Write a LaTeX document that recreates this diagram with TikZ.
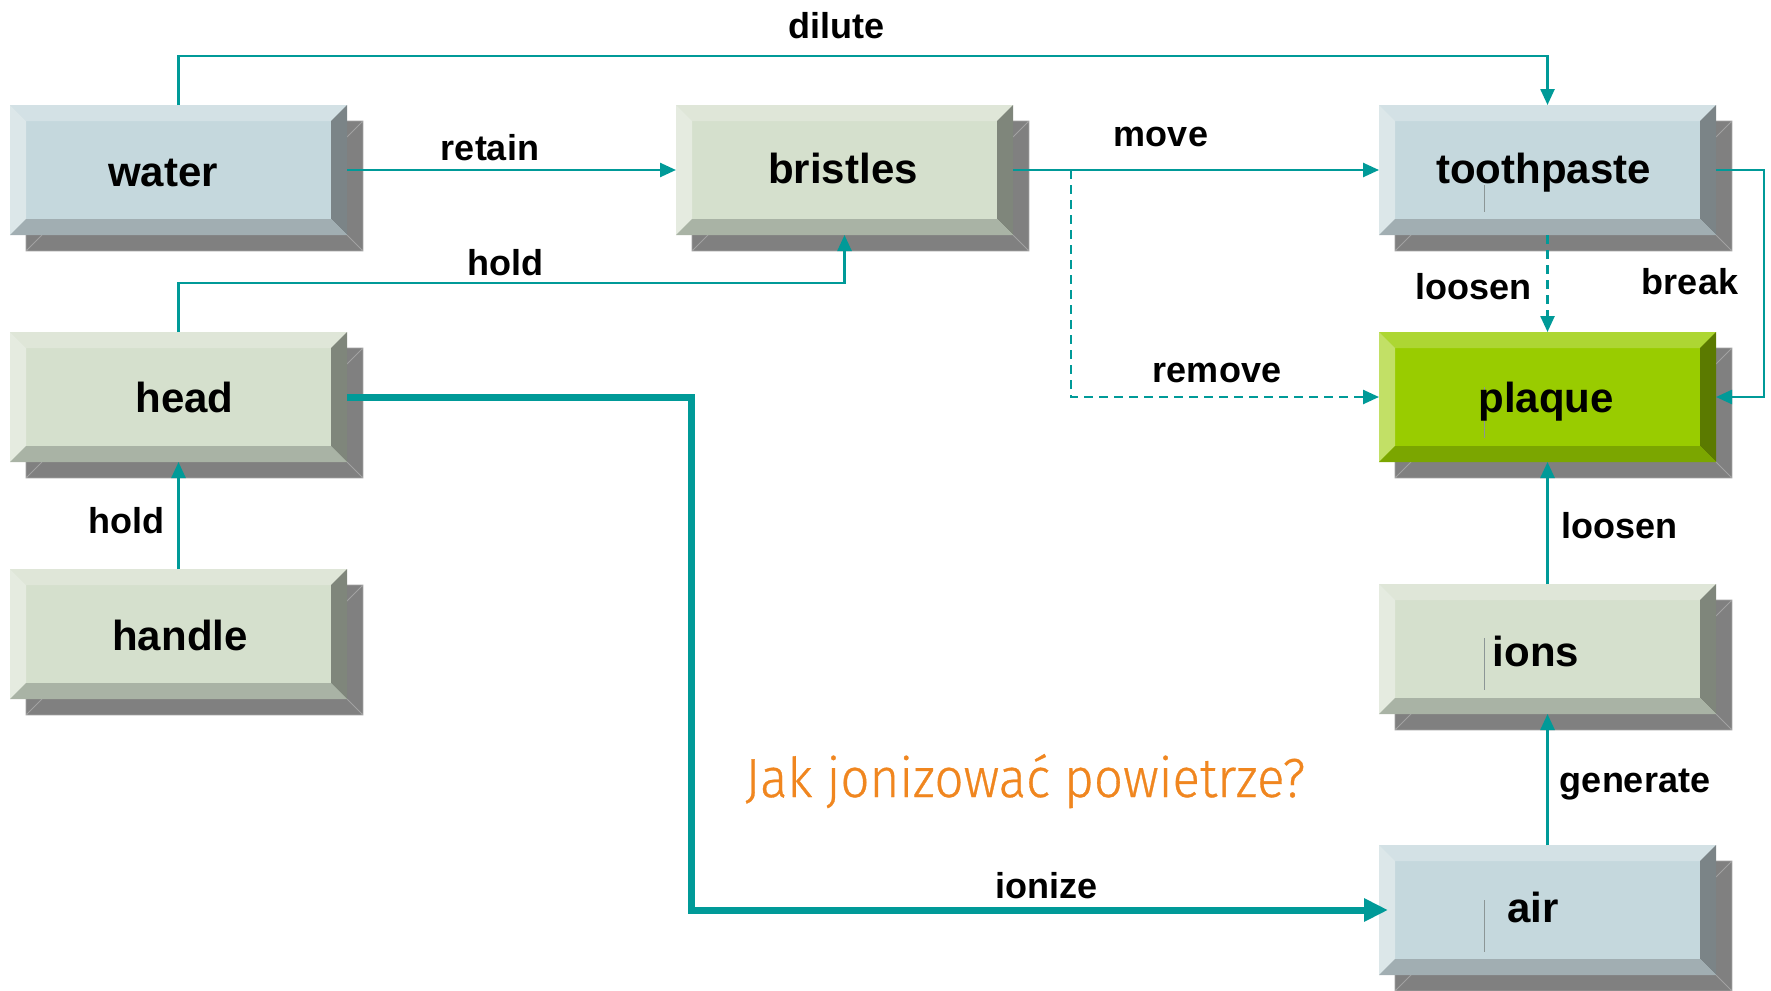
\documentclass[tikz,border=0pt]{standalone}
\usepackage{fontspec}
\setmainfont{Liberation Sans}
\newfontfamily\orfont{Fira Sans Light}[FakeBold=0.6]
\usetikzlibrary{arrows.meta}
\definecolor{tealc}{HTML}{009A98}
\definecolor{orangec}{HTML}{F0861F}
\definecolor{shdc}{HTML}{808080}
\definecolor{shdl}{HTML}{A2A2A2}
\definecolor{bface}{HTML}{C5D8DD}
\definecolor{btop}{HTML}{D3E1E5}
\definecolor{bleft}{HTML}{DCE7E9}
\definecolor{bright}{HTML}{7B8487}
\definecolor{bbot}{HTML}{A1AEB2}
\definecolor{gface}{HTML}{D5E0CD}
\definecolor{gtop}{HTML}{DFE6D8}
\definecolor{gleft}{HTML}{E5EBE0}
\definecolor{gright}{HTML}{7F867B}
\definecolor{gbot}{HTML}{A9B3A5}
\definecolor{pface}{HTML}{99CC00}
\definecolor{ptop}{HTML}{ADD633}
\definecolor{pleft}{HTML}{C2E066}
\definecolor{pright}{HTML}{5B7A00}
\definecolor{pbot}{HTML}{7BA600}
\definecolor{artc}{HTML}{8C9696}
\tikzset{
  boxshape/.style={draw=none, minimum width=337pt, minimum height=130pt, inner sep=0pt, outer sep=0pt},
  shd/.style={fill=shdc},
  shdline/.style={draw=shdl, line width=0.8pt},
  conn/.style={draw=tealc, line width=2.5pt, -{Triangle[length=16pt,width=14pt]}},
  dconn/.style={conn, dash pattern=on 9pt off 6pt},
  bigconn/.style={draw=tealc, line width=7pt, -{Triangle[length=24pt,width=22pt]}},
  boxtxt/.style={font=\fontsize{42}{48}\selectfont\bfseries, anchor=base, inner sep=0pt},
  elbl/.style={font=\fontsize{36}{42}\selectfont\bfseries, anchor=base, inner sep=0pt},
  artline/.style={draw=artc, line width=1pt},
}
\newcommand\bvbox[4]{%
  \pgfmathsetmacro\bxa{#2-168.5}%
  \pgfmathsetmacro\bxb{#2+168.5}%
  \pgfmathsetmacro\bya{#3-65}%
  \pgfmathsetmacro\byb{#3+65}%
  \fill[shd] (\bxa+16,\bya+16) rectangle (\bxb+16,\byb+16);
  \draw[shdline] (\bxa+16,\bya+16) rectangle (\bxb+16,\byb+16)
     (\bxb+16,\bya+16) -- (\bxb,\bya+32)
     (\bxb+16,\byb+16) -- (\bxb,\byb)
     (\bxa+16,\byb+16) -- (\bxa+32,\byb);
  \node[boxshape, fill=#4face] (#1) at (#2,#3) {};
  \fill[#4top] (\bxa,\bya) -- (\bxb,\bya) -- (\bxb-16,\bya+16) -- (\bxa+16,\bya+16) -- cycle;
  \fill[#4left] (\bxa,\bya) -- (\bxa+16,\bya+16) -- (\bxa+16,\byb-16) -- (\bxa,\byb) -- cycle;
  \fill[#4right] (\bxb,\bya) -- (\bxb,\byb) -- (\bxb-16,\byb-16) -- (\bxb-16,\bya+16) -- cycle;
  \fill[#4bot] (\bxa,\byb) -- (\bxb,\byb) -- (\bxb-16,\byb-16) -- (\bxa+16,\byb-16) -- cycle;
}
\begin{document}
\begin{tikzpicture}[x=1pt,y=-1pt]
\useasboundingbox (0,0) rectangle (1771,990);
\fill[white] (0,0) rectangle (1771,990);

% boxes
\bvbox{water}{178.5}{170}{b}
\bvbox{bristles}{844.5}{170}{g}
\bvbox{toothpaste}{1547.5}{170}{b}
\bvbox{head}{178.5}{397}{g}
\bvbox{plaque}{1547.5}{397}{p}
\bvbox{handle}{178.5}{634}{g}
\bvbox{ions}{1547.5}{649}{g}
\bvbox{air}{1547.5}{910}{b}

% small vertical marks inside right boxes
\draw[artline] (1484,185) -- (1484,212);
\draw[artline] (1484,387) -- (1484,438);
\draw[artline] (1484,638) -- (1484,690);
\draw[artline] (1484,900) -- (1484,952);

% box texts
\node[boxtxt] (t-water) at (163,186) {water};
\node[boxtxt] (t-bristles) at (843,183) {bristles};
\node[boxtxt] (t-toothpaste) at (1543.5,183) {toothpaste};
\node[boxtxt] (t-head) at (184.5,412) {head};
\node[boxtxt] (t-plaque) at (1546,412) {plaque};
\node[boxtxt] (t-handle) at (180,650) {handle};
\node[boxtxt] (t-ions) at (1536,666) {ions};
\node[boxtxt] (t-air) at (1533,922) {air};

% connector helper points
\coordinate (c-dil) at (178.5,56);
\coordinate (c-hold) at (178.5,283);
\coordinate (c-rem) at (1071,170);
\coordinate (c-brk) at (1764,170);
\coordinate (c-ion) at (691,910);

% connectors
\draw[conn] (water.north) -- (c-dil) -| (toothpaste.north);
\draw[conn] (water.east) -- (bristles.west);
\draw[conn] (head.north) -- (c-hold) -| (bristles.south);
\draw[conn] (bristles.east) -- (toothpaste.west);
\draw[dconn] (c-rem) |- (plaque.west);
\draw[dconn] (toothpaste.south) -- (plaque.north);
\draw[conn] (toothpaste.east) -- (c-brk) |- (plaque.east);
\draw[conn] (ions.north) -- (plaque.south);
\draw[conn] (air.north) -- (ions.south);
\draw[conn] (handle.north) -- (head.south);
\draw[bigconn] (head.east) -| (c-ion) -- ([xshift=9pt]air.west);

% edge labels
\node[elbl] (l-dilute) at (836,38) {dilute};
\node[elbl] (l-retain) at (490,160) {retain};
\node[elbl] (l-hold1) at (505,275) {hold};
\node[elbl] (l-move) at (1161,146) {move};
\node[elbl] (l-remove) at (1217,382) {remove};
\node[elbl] (l-loosen1) at (1473,299) {loosen};
\node[elbl] (l-break) at (1690,294) {break};
\node[elbl] (l-loosen2) at (1619,538) {loosen};
\node[elbl] (l-generate) at (1635,792) {generate};
\node[elbl] (l-hold2) at (126,533) {hold};
\node[elbl] (l-ionize) at (1046,898) {ionize};

% title
\node[anchor=base west, inner sep=0pt, text=orangec] (question) at (745,797)
  {\resizebox{560pt}{\height}{\orfont\fontsize{55}{60}\selectfont Jak jonizować powietrze?}};
\end{tikzpicture}
\end{document}
